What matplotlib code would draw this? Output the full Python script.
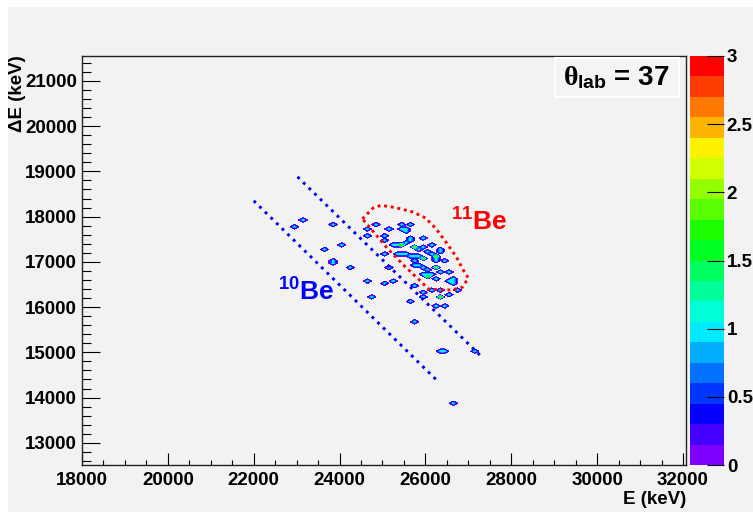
import colorsys
import numpy as np
import matplotlib
matplotlib.use("Agg")
from matplotlib import pyplot as plt
from matplotlib.colors import ListedColormap, BoundaryNorm
from matplotlib.patches import Rectangle, Polygon
from matplotlib.cm import ScalarMappable
from matplotlib.ticker import MultipleLocator

plt.rcParams['font.family'] = ['Liberation Sans', 'DejaVu Sans']
plt.rcParams['font.weight'] = 'bold'
plt.rcParams['mathtext.fontset'] = 'custom'
plt.rcParams['mathtext.rm'] = 'Liberation Serif'
plt.rcParams['mathtext.it'] = 'Liberation Serif'
plt.rcParams['mathtext.bf'] = 'Liberation Sans:bold'

# events (E, dE in keV) and counts
e_kev = [23150, 22950, 23845, 23640, 24040, 23835, 23835, 24250, 24650, 24740,
         25650, 25740, 26350, 26450, 27145, 26655,
         24850, 24655, 24650, 25140, 25430, 25645, 25065, 25065, 25955, 25025,
         25140, 25050, 25255, 25760, 25955, 25955, 26150, 26245, 26445, 26345,
         26555, 26740, 26345,
         25400, 25500, 25550,
         25200, 25300, 25400, 25500, 25600, 25650,
         25700, 25800, 25900,
         25300, 25400, 25500, 25600, 25700, 25800, 25900, 25760,
         26150, 26250, 26350, 26250, 26270, 26400,
         26050, 26150, 26350,
         25700, 25800, 25900, 26000, 26200, 26550,
         25950, 26050, 26150, 26300,
         26030, 26230,
         26620, 26620, 26620, 26500]
de_kev = [17930, 17780, 17830, 17280, 17380, 16990, 17040, 16880, 16580, 16215,
          16120, 15660, 15020, 15020, 15030, 13870,
          17840, 17720, 17575, 17725, 17830, 17830, 17580, 17465, 17535, 17190,
          16890, 16525, 16575, 16490, 16325, 16215, 16375, 16025, 16025, 16215,
          16275, 16360, 16375,
          17700, 17650, 17720,
          17370, 17370, 17370, 17400, 17460, 17510,
          17300, 17290, 17300,
          17150, 17150, 17150, 17140, 17120, 17110, 17080, 17040,
          17190, 17110, 17210, 17050, 17000, 17040,
          17240, 17370, 17280,
          16930, 16900, 16870, 16820, 16890, 16780,
          16720, 16720, 16720, 16750,
          16650, 16600,
          16640, 16590, 16530, 16550]
counts = [1, 1, 1, 1, 1, 1, 1, 1, 1, 1,
          1, 1, 1, 1, 1, 1,
          1, 1, 1, 1, 1, 1, 1, 1, 1, 1,
          1, 1, 1, 1, 1, 1, 1, 1, 1, 2,
          1, 1, 1,
          1, 1, 1,
          1, 1, 2, 1, 1, 1,
          2, 1, 1,
          1, 1, 1, 1, 1, 1, 2, 1,
          1, 2, 1, 1, 1, 1,
          1, 1, 1,
          1, 1, 1, 1, 2, 1,
          1, 1, 1, 1,
          2, 1,
          1, 1, 1, 1]

# 11Be graphical cut
cut_e = [24530, 24780, 24970, 25300, 25720, 26000, 26250, 26490, 26720, 26880,
         27000, 26860, 26620, 26350, 26070, 25880, 25530, 25130, 24830, 24530]
cut_de = [17950, 18190, 18250, 18200, 18100, 17970, 17730, 17420, 17110, 16820,
          16640, 16440, 16380, 16380, 16400, 16580, 16890, 17280, 17620, 17950]

# dotted guide lines
be10_e = [22000, 26290]
be10_de = [18350, 14360]
be11_e = [23020, 27290]
be11_de = [18880, 14920]

W, H = 753, 512
bg = '#f2f2f2'
fig = plt.figure(figsize=(W / 100, H / 100), dpi=100, facecolor='white')
fig.patches.append(Rectangle((8 / W, 0), 1, 1 - 7 / H, transform=fig.transFigure,
                             facecolor=bg, edgecolor='none', zorder=-10))

ax = fig.add_axes([82 / W, 1 - 465 / H, (686 - 82) / W, (465 - 56) / H])
cax = fig.add_axes([690 / W, 1 - 465 / H, 34 / W, (465 - 56) / H])
ax.set_facecolor(bg)

# palette like ROOT's pretty palette: violet -> red, 20 levels
hues = np.linspace(270, 0, 20) / 360.0
cmap = ListedColormap([colorsys.hsv_to_rgb(h, 1, 1) for h in hues])
bounds = np.linspace(0, 3, 21)
norm = BoundaryNorm(bounds, 20)

ebins = np.arange(18000, 32200, 100)
debins = np.arange(12500, 21600, 50)
hist, xe, ye = np.histogram2d(e_kev, de_kev, bins=[ebins, debins], weights=counts)
xc = 0.5 * (xe[:-1] + xe[1:])
yc = 0.5 * (ye[:-1] + ye[1:])
levels = bounds.copy()
levels[0] = 0.001
ax.contourf(xc, yc, hist.T, levels=levels, cmap=cmap, norm=norm)

ax.plot(be10_e, be10_de, color='#0000ff', lw=2.1, linestyle=(0, (1, 1.7)))
ax.plot(be11_e, be11_de, color='#0000ff', lw=2.1, linestyle=(0, (1, 1.7)))
ax.add_patch(Polygon(np.column_stack([cut_e, cut_de]), closed=True, fill=False,
                     edgecolor='#ff0000', lw=2.1, linestyle=(0, (1, 1.3))))

ax.text(26600, 17690, r'$\mathbf{^{11}Be}$', color='#ff0000', fontsize=19,
        ha='left', va='baseline')
ax.text(22570, 16150, r'$\mathbf{^{10}Be}$', color='#0000ff', fontsize=19,
        ha='left', va='baseline')

ax.set_xlim(18000, 32070)
ax.set_ylim(12510, 21550)
ax.xaxis.set_major_locator(MultipleLocator(2000))
ax.xaxis.set_minor_locator(MultipleLocator(500))
ax.yaxis.set_major_locator(MultipleLocator(1000))
ax.yaxis.set_minor_locator(MultipleLocator(200))
ax.tick_params(axis='x', which='major', direction='in', length=8.8, width=0.8,
               labelsize=13.5, pad=5)
ax.tick_params(axis='x', which='minor', direction='in', length=3.8, width=0.8)
ax.tick_params(axis='y', which='major', direction='in', length=13, width=0.8,
               labelsize=13.5, pad=3.5)
ax.tick_params(axis='y', which='minor', direction='in', length=6.5, width=0.8)
for s in ax.spines.values():
    s.set_linewidth(1.0)
    s.set_color('#222222')

sm = ScalarMappable(norm=norm, cmap=cmap)
cb = fig.colorbar(sm, cax=cax, ticks=[0, 0.5, 1, 1.5, 2, 2.5, 3])
cb.outline.set_visible(False)
cb.ax.set_yticklabels(['0', '0.5', '1', '1.5', '2', '2.5', '3'])
cax.tick_params(direction='in', length=12.5, width=0.8, labelsize=13.5, pad=2)
cax.minorticks_off()

fig.text(17 / W, 1 - 55 / H, 'ΔE (keV)', rotation=90, ha='center', va='top',
         fontsize=13.5)
fig.text(686 / W, 1 - 491 / H, 'E (keV)', ha='right', va='top', fontsize=13.5)

fig.patches.append(Rectangle((555 / W, 1 - 97 / H), 124 / W, 39 / H,
                             transform=fig.transFigure, facecolor='#f4f4f4',
                             edgecolor='white', lw=1.5, zorder=5))
fig.text(616 / W, 1 - 78 / H, r'$\theta_{\mathbf{lab}}$ = 37',
         ha='center', va='center', fontsize=20, zorder=6)

fig.savefig('out.png', dpi=100, facecolor='white')
